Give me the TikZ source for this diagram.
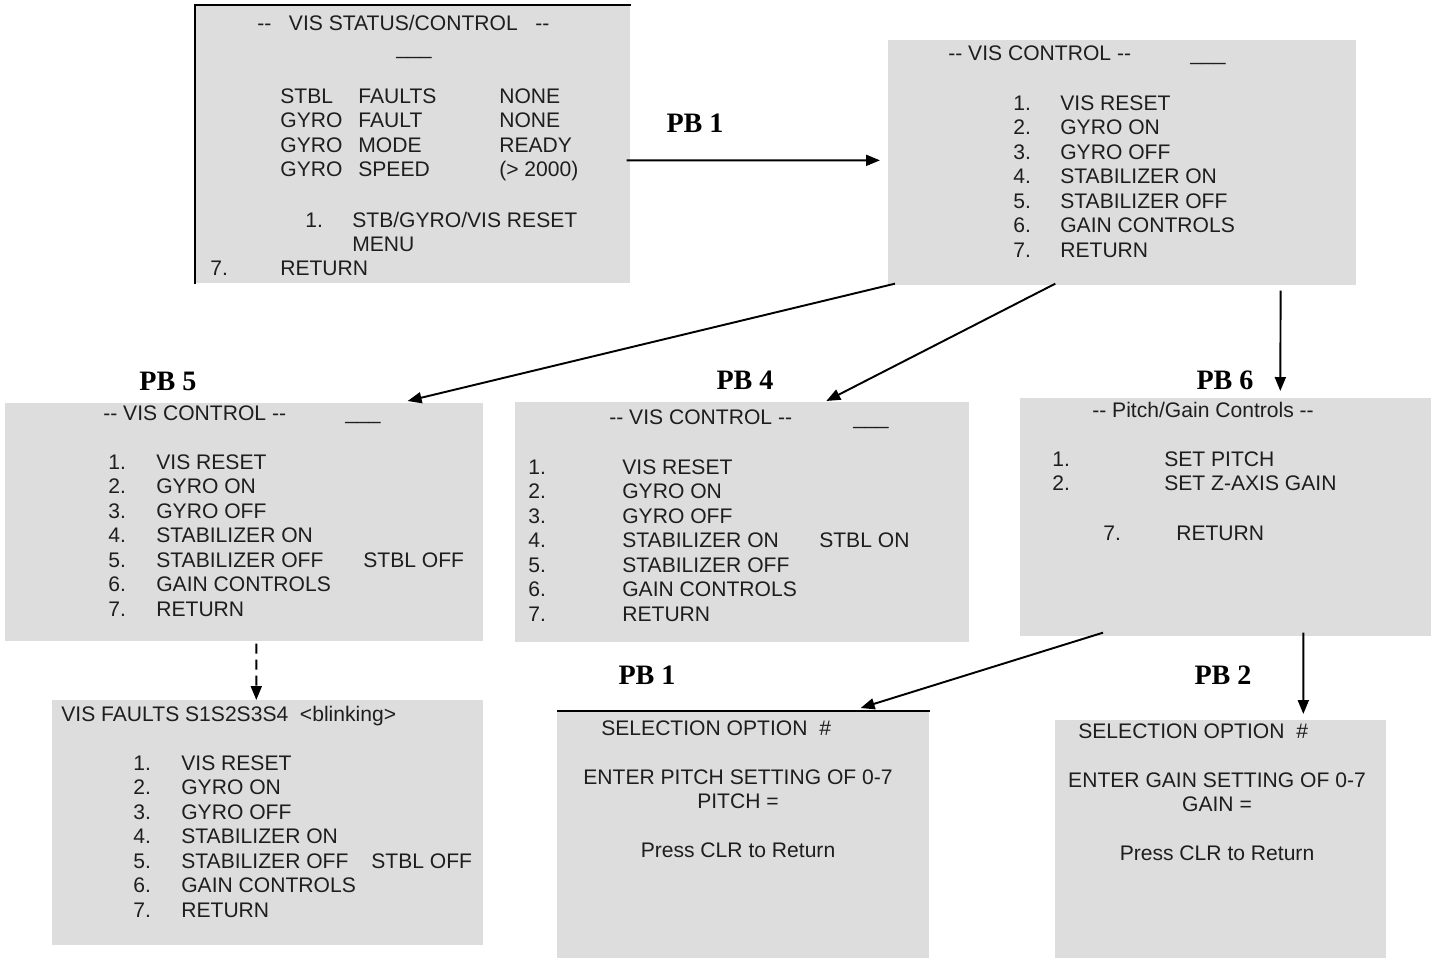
\documentclass[tikz,border=0pt]{standalone}
\usepackage{fontspec}
\setmainfont{Liberation Sans}
\newfontfamily\pbfont{Liberation Serif}
\usepackage{tikz}
\usetikzlibrary{arrows.meta}
\definecolor{screengray}{HTML}{DDDDDD}
\definecolor{screenink}{HTML}{1E1E1E}
\newcommand{\twodash}{\mbox{-}\mbox{-}}
\newcommand{\cursor}{\_\_\_}
% seven item VIS menu: number column, item column, note on 4, note on 5
\newcommand{\vismenu}[4]{%
  \begin{tabular}[t]{@{}p{#1}@{}p{#2}@{}l@{}}
    1. & VIS RESET & \\
    2. & GYRO ON & \\
    3. & GYRO OFF & \\
    4. & STABILIZER ON & #3\\
    5. & STABILIZER OFF & #4\\
    6. & GAIN CONTROLS & \\
    7. & RETURN &
  \end{tabular}}

\begin{document}
\begin{tikzpicture}[
    x=0.02cm, y=-0.02cm,
    screen/.style={fill=screengray,inner sep=0pt,anchor=north west},
    scrtext/.style={inner sep=0pt,anchor=base west,text=screenink,
                    font=\fontsize{12}{14}\selectfont},
    pblabel/.style={inner sep=0pt,font=\pbfont\bfseries\fontsize{16}{18}\selectfont},
    link/.style={-{Triangle[length=0.28cm,width=0.22cm]},line width=1.1pt},
    frame/.style={line width=1.4pt}
  ]
  \useasboundingbox (0,0) rectangle (1431,958);

  % status screen
  \node[screen,minimum width=8.7cm,minimum height=5.56cm] (stat) at (195,5) {};
  \draw[frame] (stat.south west) -- (stat.north west) -- (stat.north east);
  \node[scrtext] (stat-title) at (257,30) {\twodash\ \ \ VIS STATUS/CONTROL\ \ \ \twodash};
  \node[scrtext] (stat-cursor) at (396,54) {\cursor};
  \node[scrtext] (stat-rows) at (280,103) {\begin{tabular}[t]{@{}p{1.56cm}@{}p{2.82cm}@{}l@{}}
      STBL & FAULTS & NONE\\
      GYRO & FAULT & NONE\\
      GYRO & MODE & READY\\
      GYRO & SPEED & (> 2000)
    \end{tabular}};
  \node[scrtext] (stat-reset) at (305,227) {\begin{tabular}[t]{@{}p{0.94cm}@{}l@{}}
      1. & STB/GYRO/VIS RESET\\
         & MENU
    \end{tabular}};
  \node[scrtext] (stat-ret) at (210,275) {\begin{tabular}[t]{@{}p{1.4cm}@{}l@{}}
      7. & RETURN
    \end{tabular}};

  % control screen
  \node[screen,minimum width=9.36cm,minimum height=4.9cm] (ctrl) at (888,40) {};
  \node[scrtext] (ctrl-title) at (948,60) {\twodash\ VIS CONTROL \twodash};
  \node[scrtext] (ctrl-cursor) at (1190,60) {\cursor};
  \node[scrtext] (ctrl-menu) at (1013,110) {\vismenu{0.94cm}{4cm}{}{}};

  % PB 5 screen
  \node[screen,minimum width=9.56cm,minimum height=4.76cm] (stbloff) at (5,403) {};
  \node[scrtext] (stbloff-title) at (103,420) {\twodash\ VIS CONTROL \twodash};
  \node[scrtext] (stbloff-cursor) at (345,419) {\cursor};
  \node[scrtext] (stbloff-menu) at (108,469) {\vismenu{0.96cm}{4.14cm}{}{STBL OFF}};

  % PB 4 screen
  \node[screen,minimum width=9.08cm,minimum height=4.8cm] (stblon) at (515,402) {};
  \node[scrtext] (stblon-title) at (609,424) {\twodash\ VIS CONTROL \twodash};
  \node[scrtext] (stblon-cursor) at (853,424) {\cursor};
  \node[scrtext] (stblon-menu) at (528,474) {\vismenu{1.88cm}{3.94cm}{STBL ON}{}};

  % pitch/gain screen
  \node[screen,minimum width=8.22cm,minimum height=4.76cm] (gainctl) at (1020,398) {};
  \node[scrtext] (gainctl-title) at (1092,417) {\twodash\ Pitch/Gain Controls \twodash};
  \node[scrtext] (gainctl-menu) at (1052,466) {\begin{tabular}[t]{@{}p{2.24cm}@{}l@{}}
      1. & SET PITCH\\
      2. & SET Z-AXIS GAIN
    \end{tabular}};
  \node[scrtext] (gainctl-ret) at (1103,540) {\begin{tabular}[t]{@{}p{1.46cm}@{}l@{}}
      7. & RETURN
    \end{tabular}};

  % faults screen
  \node[screen,minimum width=8.62cm,minimum height=4.9cm] (faults) at (52,700) {};
  \node[scrtext] (faults-title) at (61,721) {VIS FAULTS S1S2S3S4\ \ <blinking>};
  \node[scrtext] (faults-menu) at (133,770) {\vismenu{0.96cm}{3.8cm}{}{STBL OFF}};

  % pitch entry screen
  \node[screen,minimum width=7.44cm,minimum height=4.94cm] (pitchset) at (557,711) {};
  \draw[frame] (pitchset.north west) -- (pitchset.north east);
  \node[scrtext] (pitchset-title) at (601,735) {SELECTION OPTION\ \ \#};
  \node[scrtext,anchor=base] (pitchset-text) at (738,784) {\begin{tabular}[t]{@{}c@{}}
      ENTER PITCH SETTING OF 0-7\\
      PITCH =\\
      \\
      Press CLR to Return
    \end{tabular}};

  % gain entry screen
  \node[screen,minimum width=6.62cm,minimum height=4.76cm] (gainset) at (1055,720) {};
  \node[scrtext] (gainset-title) at (1078,738) {SELECTION OPTION\ \ \#};
  \node[scrtext,anchor=base] (gainset-text) at (1217,787) {\begin{tabular}[t]{@{}c@{}}
      ENTER GAIN SETTING OF 0-7\\
      GAIN =\\
      \\
      Press CLR to Return
    \end{tabular}};

  % push button labels
  \node[pblabel] (pb-ctrl) at (695,123) {PB 1};
  \node[pblabel] (pb-off) at (168,381) {PB 5};
  \node[pblabel] (pb-on) at (745,380) {PB 4};
  \node[pblabel] (pb-gain) at (1225,380) {PB 6};
  \node[pblabel] (pb-pitch) at (647,675) {PB 1};
  \node[pblabel] (pb-zgain) at (1223,675) {PB 2};

  % transitions
  \draw[link] ([shift={(-4,16)}]stat.east) -- ([shift={(-8,-2.5)}]ctrl.west);
  \draw[link] ([shift={(7,-2)}]ctrl.south west) -- ([shift={(-76,-2)}]stbloff.north east);
  \draw[link] ([shift={(-67,-2)}]ctrl.south) -- ([shift={(84,-1)}]stblon.north);
  \draw[link] ([shift={(-76,5)}]ctrl.south east) -- ([shift={(54.5,-7)}]gainctl.north);
  \draw[link,dash pattern=on 0.2cm off 0.12cm] ([shift={(12,2)}]stbloff.south)
    -- ([shift={(-11.5,0)}]faults.north);
  \draw[link] ([shift={(83,-4)}]gainctl.south west) -- ([shift={(-69,-3)}]pitchset.north east);
  \draw[link] ([shift={(77.5,-4)}]gainctl.south) -- ([shift={(82.5,-6)}]gainset.north);
\end{tikzpicture}
\end{document}
